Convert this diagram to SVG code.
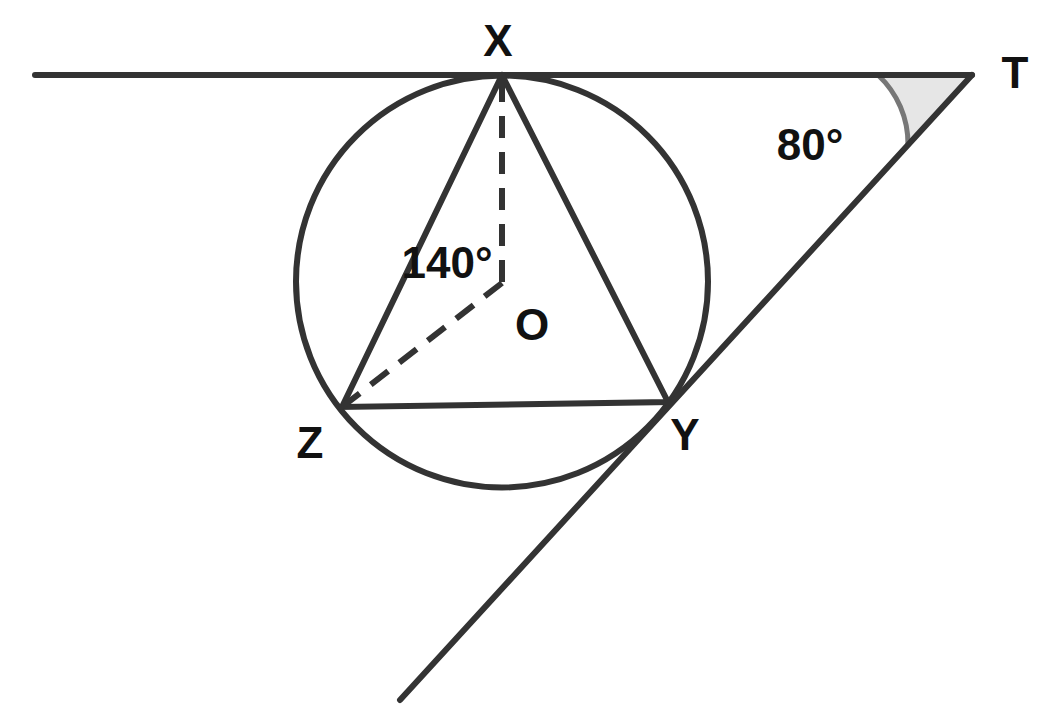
<svg xmlns="http://www.w3.org/2000/svg" width="1041" height="716" viewBox="0 0 1041 716">
<style>
.l{stroke:#333;stroke-width:6;fill:none;stroke-linecap:round}
.d{stroke:#333;stroke-width:6;fill:none;stroke-dasharray:22,14}
.t{font-family:"Liberation Sans",Arial,sans-serif;font-weight:bold;font-size:44px;fill:#111;text-anchor:middle}
</style>
<rect width="1041" height="716" fill="#fff"/>
<path d="M972,75 L878,75 A94,94 0 0 1 908,145 Z" fill="#e6e6e6"/>
<path d="M878,75 A94,94 0 0 1 908,145" stroke="#777" stroke-width="5" fill="none"/>
<g id="connectors">
<circle class="l" cx="502" cy="281.5" r="206"/>
<line class="l" x1="35" y1="75" x2="972" y2="75"/>
<line class="l" x1="972" y1="75" x2="400" y2="700"/>
<polyline class="l" points="502,75 342,407 668,402 502,75"/>
<line class="d" x1="502" y1="80" x2="502" y2="283"/>
<line class="d" x1="502" y1="283" x2="342" y2="407"/>
</g>
<text class="t" x="498" y="56">X</text>
<text class="t" x="1015" y="88">T</text>
<text class="t" x="810" y="160">80°</text>
<text class="t" x="447" y="278">140°</text>
<text class="t" x="532" y="340">O</text>
<text class="t" x="310" y="458">Z</text>
<text class="t" x="685" y="450">Y</text>
</svg>
